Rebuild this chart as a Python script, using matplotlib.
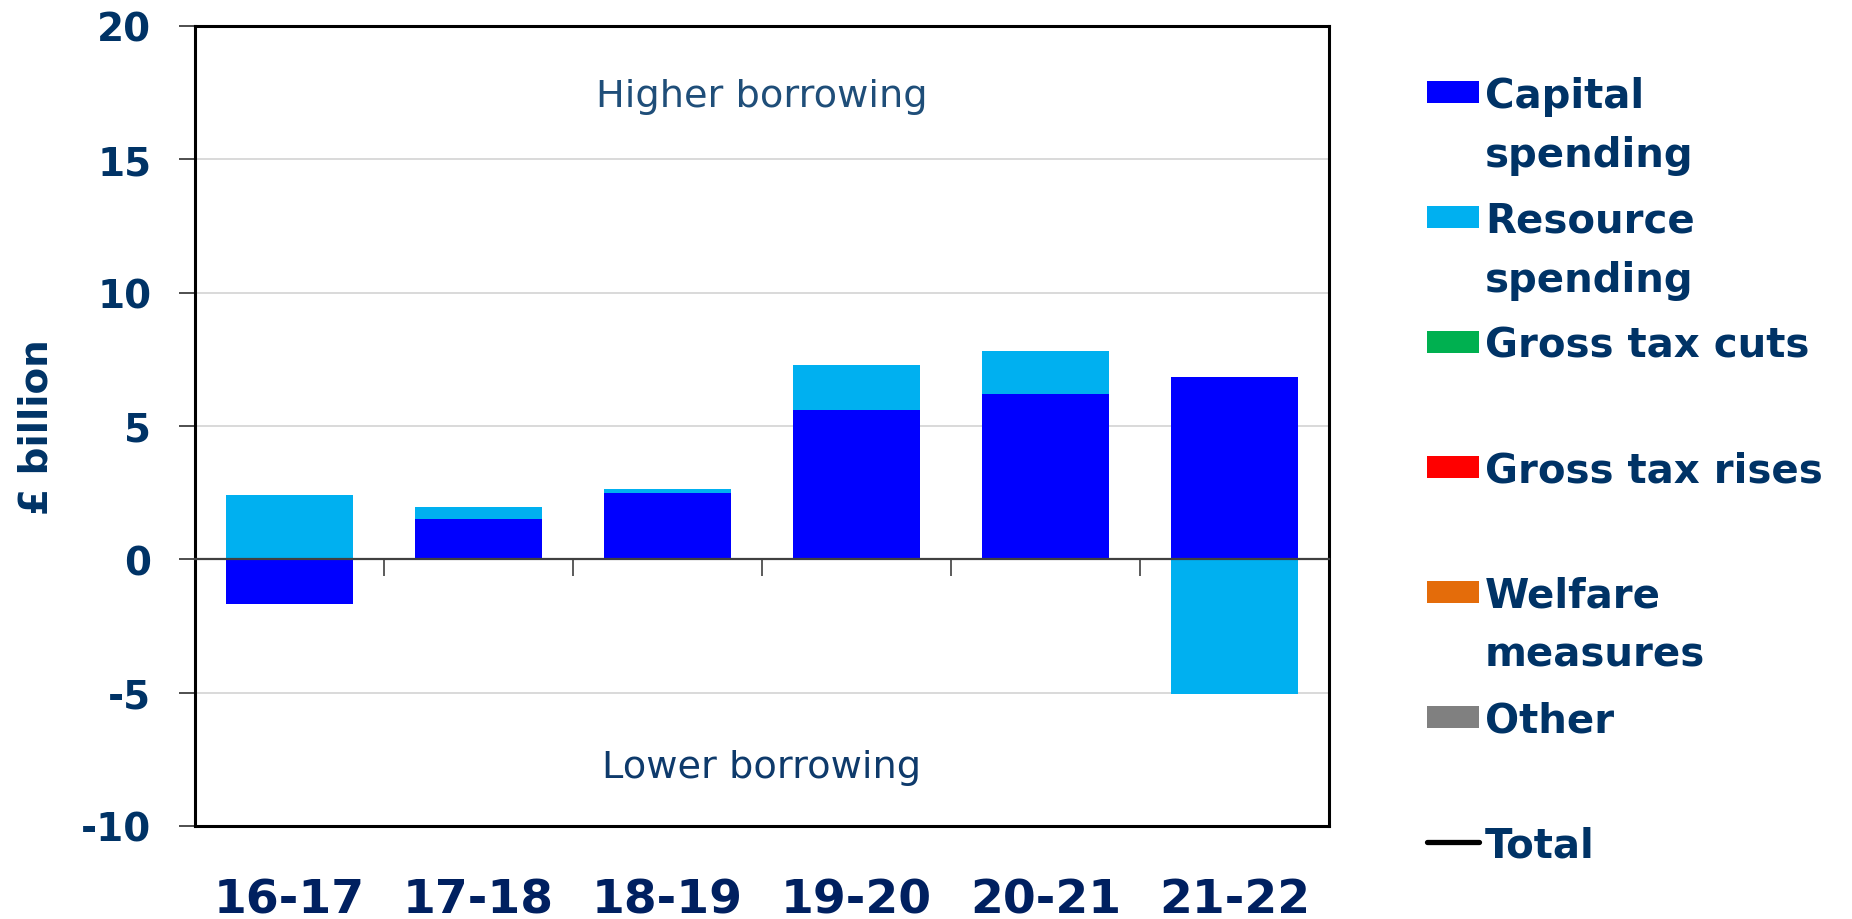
import matplotlib
matplotlib.use('Agg')
import matplotlib.pyplot as plt
from matplotlib.patches import Rectangle
from matplotlib.lines import Line2D
import numpy as np

# ---------------- data ----------------
years = ['16-17', '17-18', '18-19', '19-20', '20-21', '21-22']
capital_spending = [-1.69, 1.51, 2.47, 5.59, 6.21, 6.84]
resource_spending = [2.43, 0.47, 0.15, 1.70, 1.60, -5.04]
gross_tax_cuts = [0, 0, 0, 0, 0, 0]
gross_tax_rises = [0, 0, 0, 0, 0, 0]
welfare_measures = [0, 0, 0, 0, 0, 0]
other = [0, 0, 0, 0, 0, 0]
series_names = ['Capital\nspending', 'Resource\nspending', 'Gross tax cuts',
                'Gross tax rises', 'Welfare\nmeasures', 'Other']
series_colors = ['#0000FF', '#00B0F0', '#00B050', '#FF0000', '#E46C0A', '#808080']
total_name = 'Total'
y_ticks = [-10, -5, 0, 5, 10, 15, 20]

series_values = [capital_spending, resource_spending, gross_tax_cuts,
                 gross_tax_rises, welfare_measures, other]

# ---------------- figure ----------------
W, H = 1852, 920
fig = plt.figure(figsize=(W / 100, H / 100), dpi=100)
ax = fig.add_axes([195 / W, 1 - 827 / H, (1329 - 195) / W, (827 - 27) / H])

TXT = '#003366'
XLAB = '#002060'

x = np.arange(len(years))
pos_bottom = np.zeros(len(years))
neg_bottom = np.zeros(len(years))
for vals, col in zip(series_values, series_colors):
    v = np.array(vals, dtype=float)
    bottoms = np.where(v >= 0, pos_bottom, neg_bottom)
    ax.bar(x, v, width=0.667, bottom=bottoms, color=col, edgecolor='none', zorder=2)
    pos_bottom += np.where(v > 0, v, 0)
    neg_bottom += np.where(v < 0, v, 0)

ax.set_xlim(-0.5, len(years) - 0.5)
ax.set_ylim(min(y_ticks), max(y_ticks))

# y axis
ax.set_yticks(y_ticks)
ax.set_yticklabels([str(t) for t in y_ticks])
ax.tick_params(axis='y', length=11.5, width=1.3, color='#404040', pad=20,
               labelsize=28, labelcolor=TXT)
for lab in ax.get_yticklabels():
    lab.set_fontweight('bold')
ax.yaxis.grid(True, color='#D9D9D9', linewidth=1.4)
ax.set_axisbelow(True)

# x axis labels (low position)
ax.set_xticks(x)
ax.set_xticklabels(years)
ax.tick_params(axis='x', length=0, pad=37, labelsize=34, labelcolor=XLAB)
for lab in ax.get_xticklabels():
    lab.set_fontweight('bold')

for s in ax.spines.values():
    s.set_linewidth(2.2)
    s.set_color('black')

# zero axis with category-boundary ticks
sec = ax.secondary_xaxis(0, transform=ax.transData)
sec.set_xticks(np.arange(0.5, len(years) - 1, 1))
sec.tick_params(axis='x', direction='out', length=12, width=1.2, color='#404040',
                labelbottom=False)
sec.spines['bottom'].set_color('#404040')
sec.spines['bottom'].set_linewidth(1.6)
sec.set_zorder(5)

ax.set_ylabel('£ billion', fontsize=28, fontweight='bold', color=TXT)
ax.yaxis.set_label_coords((56 - 195) / 1134, 0.5)

ax.text(0.5, 0.913, 'Higher borrowing', transform=ax.transAxes, ha='center',
        va='center', fontsize=27.5, color='#1F4E79')
ax.text(0.5, 0.0735, 'Lower borrowing', transform=ax.transAxes, ha='center',
        va='center', fontsize=27.5, color='#0E3A6B')

# ---------------- legend (manual) ----------------
hx0, hx1 = 1427, 1479
tx = 1485
y0, dy = 93, 125
fs = 29
line_gap = 59
cap_half = 0.729 * fs * 100 / 72 / 2
for i, (name, col) in enumerate(zip(series_names, series_colors)):
    yc = y0 + i * dy
    fig.add_artist(Rectangle((hx0 / W, 1 - (yc + 11) / H), (hx1 - hx0) / W, 22 / H,
                             transform=fig.transFigure, facecolor=col, edgecolor='none'))
    for j, line in enumerate(name.split('\n')):
        fig.text(tx / W, 1 - (yc + cap_half + j * line_gap) / H, line, ha='left',
                 va='baseline', fontsize=fs, fontweight='bold', color=TXT)
yc = y0 + len(series_names) * dy
fig.add_artist(Line2D([hx0 / W, hx1 / W], [1 - yc / H, 1 - yc / H], transform=fig.transFigure,
                      color='black', linewidth=3.8, solid_capstyle='round'))
fig.text(tx / W, 1 - (yc + cap_half) / H, total_name, ha='left', va='baseline',
         fontsize=fs, fontweight='bold', color=TXT)

fig.savefig('out.png', dpi=100)
